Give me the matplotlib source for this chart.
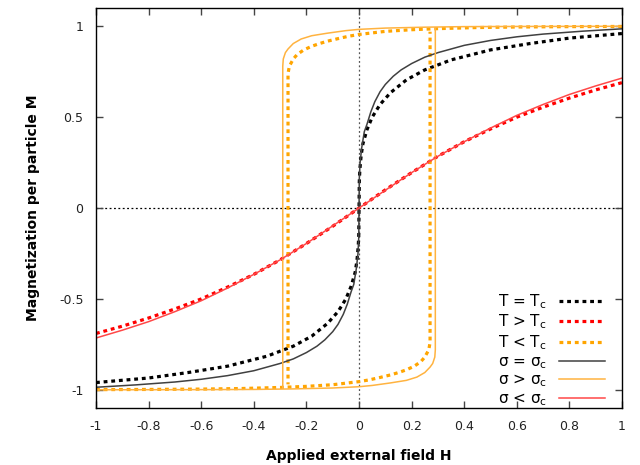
import matplotlib

matplotlib.use("Agg")
import matplotlib.pyplot as plt

# tick positions / labels (gnuplot style, plain hyphen)
x_ticks = [-1, -0.8, -0.6, -0.4, -0.2, 0, 0.2, 0.4, 0.6, 0.8, 1]
x_tick_labels = ["-1", "-0.8", "-0.6", "-0.4", "-0.2", "0", "0.2", "0.4", "0.6", "0.8", "1"]
y_ticks = [-1, -0.5, 0, 0.5, 1]
y_tick_labels = ["-1", "-0.5", "0", "0.5", "1"]

# T = Tc (black dotted)
tc_h = [-1.0, -0.8, -0.65, -0.5, -0.35, -0.25, -0.18, -0.12, -0.08, -0.05, -0.03, -0.015,
        -0.008, -0.003, -0.001, 0.0, 0.001, 0.003, 0.008, 0.015, 0.03, 0.05, 0.08,
        0.12, 0.18, 0.25, 0.35, 0.5, 0.65, 0.8, 1.0]
tc_m = [-0.96, -0.935, -0.905, -0.87, -0.815, -0.76, -0.705, -0.635, -0.57, -0.5, -0.43,
        -0.355, -0.29, -0.21, -0.145, 0.0, 0.145, 0.21, 0.29, 0.355, 0.43, 0.5, 0.57,
        0.635, 0.705, 0.76, 0.815, 0.87, 0.905, 0.935, 0.96]

# T > Tc (red dotted)
hot_h = [-1.0, -0.9, -0.8, -0.7, -0.6, -0.5, -0.4, -0.3, -0.2, -0.1, 0.0,
         0.1, 0.2, 0.3, 0.4, 0.5, 0.6, 0.7, 0.8, 0.9, 1.0]
hot_m = [-0.69, -0.65, -0.605, -0.555, -0.5, -0.435, -0.365, -0.285, -0.195, -0.1, 0.0,
         0.1, 0.195, 0.285, 0.365, 0.435, 0.5, 0.555, 0.605, 0.65, 0.69]

# T < Tc (orange dotted hysteresis loop)
cold_up_h = [1.0, 0.8, 0.6, 0.45, 0.3, 0.2, 0.1, 0.0, -0.04, -0.08, -0.12, -0.15,
             -0.18, -0.21, -0.235, -0.25, -0.265, -0.27, -0.27]
cold_up_m = [0.999, 0.998, 0.996, 0.993, 0.987, 0.981, 0.972, 0.955, 0.945, 0.932, 0.918,
             0.905, 0.89, 0.87, 0.845, 0.82, 0.78, 0.74, -0.97]
cold_lo_h = [-1.0, -0.8, -0.6, -0.45, -0.3, -0.2, -0.1, 0.0, 0.04, 0.08, 0.12, 0.15,
             0.18, 0.21, 0.235, 0.25, 0.265, 0.27, 0.27]
cold_lo_m = [-0.999, -0.998, -0.996, -0.993, -0.987, -0.981, -0.972, -0.955, -0.945, -0.932,
             -0.918, -0.905, -0.89, -0.87, -0.845, -0.82, -0.78, -0.74, 0.97]

# sigma = sigma_c (dark solid)
sc_h = [-1.0, -0.85, -0.7, -0.6, -0.5, -0.4, -0.3, -0.25, -0.2, -0.16, -0.13, -0.1, -0.08,
        -0.06, -0.045, -0.03, -0.02, -0.01, -0.004, -0.001, 0.0,
        0.001, 0.004, 0.01, 0.02, 0.03, 0.045, 0.06, 0.08, 0.1, 0.13, 0.16, 0.2, 0.25,
        0.3, 0.4, 0.5, 0.6, 0.7, 0.85, 1.0]
sc_m = [-0.986, -0.973, -0.957, -0.942, -0.922, -0.895, -0.855, -0.83, -0.795, -0.76, -0.725,
        -0.68, -0.64, -0.585, -0.53, -0.46, -0.42, -0.33, -0.25, -0.16, 0.0,
        0.16, 0.25, 0.33, 0.42, 0.46, 0.53, 0.585, 0.64, 0.68, 0.725, 0.76, 0.795, 0.83,
        0.855, 0.895, 0.922, 0.942, 0.957, 0.973, 0.986]

# sigma > sigma_c (light orange solid loop)
big_up_h = [1.0, 0.6, 0.4, 0.25, 0.1, 0.0, -0.05, -0.12, -0.18, -0.22, -0.25, -0.27,
            -0.28, -0.288, -0.29, -0.29]
big_up_m = [1.0, 0.999, 0.998, 0.995, 0.99, 0.983, 0.976, 0.962, 0.948, 0.93, 0.905,
            0.875, 0.855, 0.82, 0.78, -0.99]
big_lo_h = [-1.0, -0.6, -0.4, -0.25, -0.1, 0.0, 0.05, 0.12, 0.18, 0.22, 0.25, 0.27,
            0.28, 0.288, 0.29, 0.29]
big_lo_m = [-1.0, -0.999, -0.998, -0.995, -0.99, -0.983, -0.976, -0.962, -0.948, -0.93,
            -0.905, -0.875, -0.855, -0.82, -0.78, 0.99]

# sigma < sigma_c (light red solid)
small_h = [-1.0, -0.9, -0.8, -0.7, -0.6, -0.5, -0.4, -0.3, -0.2, -0.1, 0.0,
           0.1, 0.2, 0.3, 0.4, 0.5, 0.6, 0.7, 0.8, 0.9, 1.0]
small_m = [-0.715, -0.672, -0.625, -0.57, -0.51, -0.44, -0.365, -0.285, -0.195, -0.098, 0.0,
           0.098, 0.195, 0.285, 0.365, 0.44, 0.51, 0.57, 0.625, 0.672, 0.715]

plt.rcParams["axes.unicode_minus"] = False

fig = plt.figure(figsize=(6.4, 4.65), dpi=100)
ax = fig.add_axes([0.15, 0.1226, 0.822, 0.860])

ax.axhline(0, color="black", lw=0.9, ls=(0, (1.5, 2.0)), zorder=1)
ax.axvline(0, color="#555555", lw=0.9, ls=(0, (1.5, 2.0)), zorder=1)

dot = (0, (1.2, 1.2))
ax.plot(tc_h, tc_m, color="black", lw=2.3, ls=dot, label=r"T = T$_{\rm c}$")
ax.plot(hot_h, hot_m, color="#ff0000", lw=2.3, ls=dot, label=r"T > T$_{\rm c}$")
ax.plot(cold_up_h, cold_up_m, color="#ffa500", lw=2.3, ls=dot, label=r"T < T$_{\rm c}$")
ax.plot(cold_lo_h, cold_lo_m, color="#ffa500", lw=2.3, ls=dot)
ax.plot(sc_h, sc_m, color="#404040", lw=1.1, label=r"σ = σ$_{\rm c}$")
ax.plot(big_up_h, big_up_m, color="#ffb340", lw=1.1, label=r"σ > σ$_{\rm c}$")
ax.plot(big_lo_h, big_lo_m, color="#ffb340", lw=1.1)
ax.plot(small_h, small_m, color="#ff4848", lw=1.1, label=r"σ < σ$_{\rm c}$")

ax.set_xlim(-1, 1)
ax.set_ylim(-1.1, 1.1)
ax.set_xticks(x_ticks)
ax.set_xticklabels(x_tick_labels)
ax.set_yticks(y_ticks)
ax.set_yticklabels(y_tick_labels)
ax.tick_params(direction="in", length=5, width=1, color="#444444", top=True, right=True,
               labelsize=9, labelcolor="#222222", pad=9)
for spine in ax.spines.values():
    spine.set_linewidth(1.0)

ax.set_xlabel("Applied external field H", fontsize=10, fontweight="bold", labelpad=11)
ax.set_ylabel("Magnetization per particle M", fontsize=10, fontweight="bold", labelpad=14)

ax.legend(loc="lower right", bbox_to_anchor=(0.985, -0.022), frameon=False, markerfirst=False,
          fontsize=11, handlelength=3.0, labelspacing=0.12, handletextpad=0.8,
          borderaxespad=0.2)

fig.savefig("out.png", dpi=100)
